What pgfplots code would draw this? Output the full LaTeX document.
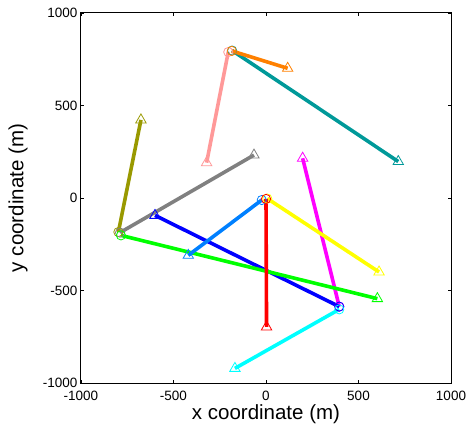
\documentclass[border=0pt]{standalone}
\usepackage{fontspec}
\setmainfont{Liberation Sans}
\usepackage{pgfplots}
\pgfplotsset{compat=1.18}
\definecolor{cOrange}{RGB}{255,128,0}
\definecolor{cTeal}{RGB}{0,153,153}
\definecolor{cPink}{RGB}{255,153,153}
\definecolor{cOlive}{RGB}{153,153,0}
\definecolor{cGray}{RGB}{128,128,128}
\definecolor{cMag}{RGB}{255,0,255}
\definecolor{cBlue}{RGB}{0,0,255}
\definecolor{cCyan}{RGB}{0,255,255}
\definecolor{cGreen}{RGB}{0,255,0}
\definecolor{cDodger}{RGB}{0,128,255}
\definecolor{cYellow}{RGB}{255,255,0}
\definecolor{cRed}{RGB}{255,0,0}
\newcommand{\seg}[5]{%
  \addplot[#1, line width=3.6pt] coordinates {(#2,#3) (#4,#5)};
  \addplot[#1, only marks, mark=o, mark size=4.6pt, mark options={line width=0.8pt}] coordinates {(#2,#3)};
  \addplot[#1, only marks, mark=triangle, mark size=6pt, mark options={line width=0.8pt}] coordinates {(#4,#5)};
}
\begin{document}
\begin{tikzpicture}
\begin{axis}[
  name=ax,
  scale only axis, width=370pt, height=370pt,
  xmin=-1000, xmax=1000, ymin=-1000, ymax=1000,
  xtick={-1000,-500,0,500,1000}, ytick={-1000,-500,0,500,1000},
  tick align=inside, major tick length=3pt,
  axis line style={line width=1pt},
  tick style={black, line width=0.8pt},
  /pgf/number format/assume math mode=true,
  /pgf/number format/1000 sep={},
  ticklabel style={font=\fontsize{13.5}{15}\selectfont},
  xticklabel style={yshift=-5pt},
  xlabel={x coordinate (m)}, ylabel={y coordinate (m)},
  label style={font=\fontsize{20.5}{24}\selectfont},
  xlabel style={at={(axis description cs:0.5,-0.059)}, anchor=north, inner sep=0pt},
  ylabel style={at={(axis description cs:-0.135,0.5)}, anchor=south},
]
\seg{cPink}{-204}{789}{-321}{191}
\seg{cTeal}{-183}{797}{715}{197}
\seg{cOrange}{-185}{795}{117}{701}
\seg{cOlive}{-798}{-184}{-676}{422}
\seg{cGray}{-789}{-187}{-65}{232}
\seg{cMag}{396}{-587}{198}{215}
\seg{cBlue}{396}{-587}{-600}{-94}
\seg{cGreen}{-784}{-202}{602}{-544}
\seg{cDodger}{-23}{-11}{-420}{-310}
\seg{cCyan}{396}{-602}{-168}{-921}
\seg{cYellow}{7}{-3}{611}{-400}
\seg{cRed}{0}{-5}{3}{-697}
\end{axis}
\pgfresetboundingbox
\path ([shift={(-81pt,-42pt)}]ax.south west) rectangle ([shift={(16pt,13pt)}]ax.north east);
\end{tikzpicture}
\end{document}
